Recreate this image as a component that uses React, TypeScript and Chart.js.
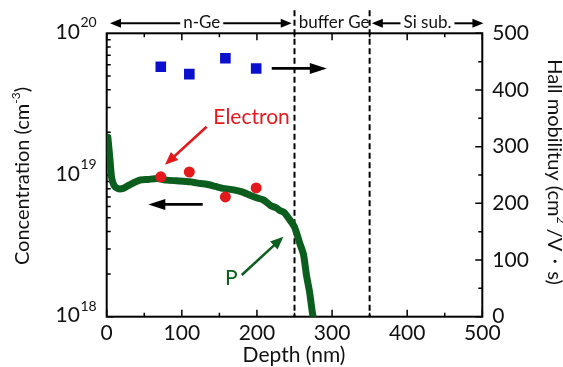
import { useEffect, useRef } from 'react';
import { Chart, registerables } from 'chart.js';

Chart.register(...registerables);

// ---- data ----
const depthP = [1.5, 4, 6.5, 10, 15, 22, 30, 44, 55, 67, 80, 93, 111, 125, 133, 145, 155, 169, 180, 191, 200, 209, 218, 226, 231, 236, 244, 250, 257, 262, 266, 270, 274, 277];
const concP = [1.85e19, 1.35e19, 9.6e18, 8.4e18, 8.0e18, 8.05e18, 8.5e18, 9.2e18, 9.3e18, 9.45e18, 9.2e18, 9.1e18, 8.95e18, 8.7e18, 8.6e18, 8.3e18, 8.05e18, 7.85e18, 7.6e18, 7.2e18, 6.9e18, 6.65e18, 6.1e18, 5.85e18, 5.6e18, 5.45e18, 4.8e18, 4.3e18, 3.3e18, 2.75e18, 1.95e18, 1.5e18, 1.05e18, 0.85e18];

const depthHall = [72, 110, 158, 199];
const electronConc = [9.7e18, 1.05e19, 7.0e18, 8.1e18];
const hallMobility = [441, 428, 456, 438];

const xTickValues = [0, 100, 200, 300, 400, 500];
const leftTickExponents = [18, 19, 20];
const regionBounds = [250, 350];

// annotation geometry in data units: [x1, y1, x2, y2]
const electronArrow = [133, 2.19e19, 77.6, 1.18e19];
const pArrow = [179.8, 1.97e18, 235.2, 3.67e18];
const leftArrow = [127.8, 6.2e18, 55.4, 6.2e18];
const rightArrow = [219.7, 438, 293, 438];
const electronLabel = { text: 'Electron', x: 142, y: 2.3e19 };
const pLabel = { text: 'P', x: 157.5, y: 1.67e18 };
// top region labels: [text, centre x, arrow start, arrow end] (data x)
const topLabels: [string, number, number | null, number | null][] = [
  ['n-Ge', 126.5, 4.4, 246.3],
  ['buffer Ge', 302.7, null, null],
  ['Si sub.', 427, 352.9, 501.5],
];

const GREEN = '#0c5e1e';
const RED = '#e3191c';
const BLUE = '#0a10cc';
const FONT = 'Lato, "Noto Sans", sans-serif';

function drawArrow(ctx: CanvasRenderingContext2D, x1: number, y1: number, x2: number, y2: number, color: string, lw: number, headLen: number, headHalf: number) {
  const ang = Math.atan2(y2 - y1, x2 - x1);
  const c = Math.cos(ang), s = Math.sin(ang);
  const bx = x2 - headLen * c, by = y2 - headLen * s;
  ctx.save();
  ctx.strokeStyle = color;
  ctx.fillStyle = color;
  ctx.lineWidth = lw;
  ctx.beginPath();
  ctx.moveTo(x1, y1);
  ctx.lineTo(bx + c, by + s);
  ctx.stroke();
  ctx.beginPath();
  ctx.moveTo(x2, y2);
  ctx.lineTo(bx - headHalf * s, by + headHalf * c);
  ctx.lineTo(bx + headHalf * s, by - headHalf * c);
  ctx.closePath();
  ctx.fill();
  ctx.restore();
}

const overlay = {
  id: 'overlay',
  beforeDatasetsDraw(chart: any) {
    const { ctx, chartArea: a, scales } = chart;
    const xs = scales.x, yl = scales.y, yr = scales.y1;
    ctx.save();
    ctx.strokeStyle = '#000';
    ctx.lineWidth = 1.5;
    ctx.beginPath();
    // x ticks bottom & top
    for (let v = 0; v <= 500; v += 50) {
      const px = xs.getPixelForValue(v);
      const len = v % 100 === 0 ? 7 : 4;
      ctx.moveTo(px, a.bottom);
      ctx.lineTo(px, a.bottom - len);
      ctx.moveTo(px, a.top);
      ctx.lineTo(px, a.top + len);
    }
    // left log ticks
    for (let e = 18; e < 20; e++) {
      for (let m = 1; m <= 9; m++) {
        const py = yl.getPixelForValue(m * Math.pow(10, e));
        const len = m === 1 ? 7 : 4;
        ctx.moveTo(a.left, py);
        ctx.lineTo(a.left + len, py);
      }
    }
    // right ticks
    for (let v = 0; v <= 500; v += 50) {
      const py = yr.getPixelForValue(v);
      const len = v % 100 === 0 ? 7 : 4;
      ctx.moveTo(a.right, py);
      ctx.lineTo(a.right - len, py);
    }
    ctx.stroke();
    // frame
    ctx.lineWidth = 2;
    ctx.strokeRect(a.left, a.top, a.right - a.left, a.bottom - a.top);
    // dashed region boundaries
    ctx.setLineDash([6, 3.5]);
    ctx.lineWidth = 2;
    ctx.beginPath();
    for (const b of regionBounds) {
      const px = xs.getPixelForValue(b);
      ctx.moveTo(px, a.top - 23);
      ctx.lineTo(px, a.bottom);
    }
    ctx.stroke();
    ctx.restore();
  },
  afterDatasetsDraw(chart: any) {
    const { ctx, chartArea: a, scales } = chart;
    const xs = scales.x, yl = scales.y, yr = scales.y1;
    const X = (v: number) => xs.getPixelForValue(v);
    const YL = (v: number) => yl.getPixelForValue(v);
    const YR = (v: number) => yr.getPixelForValue(v);

    // arrows on plot
    drawArrow(ctx, X(electronArrow[0]), YL(electronArrow[1]), X(electronArrow[2]), YL(electronArrow[3]), RED, 2.5, 13, 5.5);
    drawArrow(ctx, X(pArrow[0]), YL(pArrow[1]), X(pArrow[2]), YL(pArrow[3]), GREEN, 2.5, 13, 5.5);
    drawArrow(ctx, X(leftArrow[0]), YL(leftArrow[1]), X(leftArrow[2]), YL(leftArrow[3]), '#000', 2.8, 17, 5.5);
    drawArrow(ctx, X(rightArrow[0]), YR(rightArrow[1]), X(rightArrow[2]), YR(rightArrow[3]), '#000', 2.8, 17, 5.5);

    ctx.save();
    ctx.textBaseline = 'alphabetic';
    // Electron / P labels
    ctx.font = `21px ${FONT}`;
    ctx.textAlign = 'left';
    ctx.fillStyle = RED;
    ctx.fillText(electronLabel.text, X(electronLabel.x), YL(electronLabel.y));
    ctx.fillStyle = GREEN;
    ctx.fillText(pLabel.text, X(pLabel.x), YL(pLabel.y));

    // top region labels
    ctx.fillStyle = '#111';
    ctx.font = `17px ${FONT}`;
    ctx.textAlign = 'center';
    const ly = a.top - 10;
    for (const [text, cx, s, e] of topLabels) {
      const px = X(cx);
      ctx.fillText(text, px, a.top - 5);
      if (s !== null && e !== null) {
        const w = ctx.measureText(text).width;
        drawArrow(ctx, px - w / 2 - 3, ly, X(s), ly, '#000', 2, 11, 4.5);
        drawArrow(ctx, px + w / 2 + 3, ly, X(e), ly, '#000', 2, 11, 4.5);
      }
    }

    // left tick labels 10^n
    ctx.textAlign = 'right';
    ctx.fillStyle = '#111';
    for (const e of leftTickExponents) {
      const py = YL(Math.pow(10, e));
      ctx.font = `14px ${FONT}`;
      const sup = String(e);
      const sw = ctx.measureText(sup).width;
      ctx.fillText(sup, a.left - 10, py - 6);
      ctx.font = `21px ${FONT}`;
      ctx.fillText('10', a.left - 10 - sw - 0.5, py + 5.5);
    }

    // left axis title (rotated)
    const drawParts = (parts: [string, number, number][], cx: number, cy: number, rot: number) => {
      ctx.save();
      ctx.translate(cx, cy);
      ctx.rotate(rot);
      ctx.textAlign = 'left';
      let total = 0;
      for (const [t, size] of parts) {
        ctx.font = `${size}px ${FONT}`;
        total += ctx.measureText(t).width;
      }
      let x = -total / 2;
      for (const [t, size, dy] of parts) {
        ctx.font = `${size}px ${FONT}`;
        ctx.fillText(t, x, dy);
        x += ctx.measureText(t).width;
      }
      ctx.restore();
    };
    drawParts([
      ['Concentration (cm', 20, 0],
      ['-3', 12, -9],
      [')', 20, 0],
    ], 29, 176, -Math.PI / 2);
    drawParts([
      ['Hall mobilituy (cm', 20, 0],
      ['2', 12, -9],
      [' /V・s)', 20, 0],
    ], 547.5, 172, Math.PI / 2);

    // x axis title
    ctx.font = `21px ${FONT}`;
    ctx.textAlign = 'center';
    ctx.fillText('Depth (nm)', (a.left + a.right) / 2 - 0.5, 362);
    ctx.restore();
  },
};

export default function App() {
  const ref = useRef<HTMLCanvasElement>(null);
  useEffect(() => {
    if (!ref.current) return;
    const chart = new Chart(ref.current, {
      type: 'line',
      data: {
        datasets: [
          {
            type: 'scatter',
            label: 'Electron',
            data: depthHall.map((d, i) => ({ x: d, y: electronConc[i] })),
            yAxisID: 'y',
            backgroundColor: RED,
            borderColor: RED,
            pointRadius: 5.5,
            pointBorderWidth: 0,
            order: 1,
          } as any,
          {
            type: 'scatter',
            label: 'Hall mobility',
            data: depthHall.map((d, i) => ({ x: d, y: hallMobility[i] })),
            yAxisID: 'y1',
            pointStyle: 'rect',
            backgroundColor: BLUE,
            borderColor: BLUE,
            pointRadius: 7.5,
            pointBorderWidth: 0,
            order: 2,
          } as any,
          {
            type: 'line',
            label: 'P',
            data: depthP.map((d, i) => ({ x: d, y: concP[i] })),
            yAxisID: 'y',
            borderColor: GREEN,
            backgroundColor: GREEN,
            borderWidth: 7,
            pointRadius: 0,
            tension: 0.2,
            borderJoinStyle: 'round',
            borderCapStyle: 'round',
            fill: false,
            order: 3,
          } as any,
        ],
      },
      options: {
        animation: false,
        responsive: false,
        layout: { padding: { top: 33.3, left: 0, right: 0, bottom: 0 } },
        plugins: { legend: { display: false }, tooltip: { enabled: false } },
        scales: {
          x: {
            type: 'linear',
            position: 'bottom',
            min: 0,
            max: 500,
            grid: { display: false, drawTicks: false },
            border: { display: false },
            ticks: {
              stepSize: 100,
              padding: 4,
              maxRotation: 0,
              autoSkip: false,
              color: '#111',
              font: { family: FONT, size: 21 },
              callback: (v: any) => (xTickValues.includes(Number(v)) ? String(v) : ''),
            },
            afterFit: (s: any) => { s.height = 367 - 316.7; },
          },
          y: {
            type: 'logarithmic',
            position: 'left',
            min: 1e18,
            max: 1e20,
            grid: { display: false, drawTicks: false },
            border: { display: false },
            ticks: { display: false },
            afterFit: (s: any) => { s.width = 106.7; },
          },
          y1: {
            type: 'linear',
            position: 'right',
            min: 0,
            max: 500,
            grid: { display: false, drawTicks: false },
            border: { display: false },
            ticks: {
              stepSize: 100,
              padding: 10,
              color: '#111',
              font: { family: FONT, size: 21 },
            },
            afterFit: (s: any) => { s.width = 563 - 482.3; },
          },
        },
      } as any,
      plugins: [overlay],
    });
    return () => chart.destroy();
  }, []);
  return (
    <div style={{ position: 'absolute', left: 0, top: 0, width: 563, height: 367, background: '#fff' }}>
      <canvas ref={ref} width={563} height={367} style={{ display: 'block' }} />
    </div>
  );
}
